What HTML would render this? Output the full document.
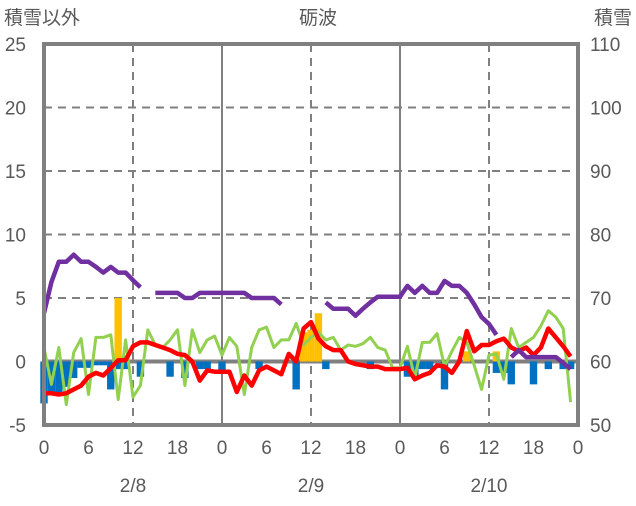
<!DOCTYPE html>
<html><head><meta charset="utf-8"><style>
body{margin:0;background:#fff;}
svg text{font-family:"Liberation Sans","Noto Sans CJK JP",sans-serif;fill:#595959;font-size:19px;}
</style></head><body>
<svg id="chart" width="636" height="501" xmlns="http://www.w3.org/2000/svg">
<g id="grid"></g>
<g id="bars"></g>
<g id="lines"></g>
<rect x="44" y="44" width="534" height="381" fill="none" stroke="#808080" stroke-width="4"/>
<text x="4" y="24">積雪以外</text>
<text x="318" y="24" text-anchor="middle">砺波</text>
<text x="632" y="24" text-anchor="end">積雪</text>
<g id="labels"></g>
</svg>
<script>
const leftTicks=[25,20,15,10,5,0,-5];
const rightTicks=[110,100,90,80,70,60,50];
const hourTicks=["0","6","12","18","0","6","12","18","0","6","12","18","0"];
const dateLabels=["2/8","2/9","2/10"];
const snowDepth=[67.6,72.5,75.7,75.7,76.8,75.7,75.7,74.9,74,74.9,74,74,72.8,71.7,null,70.8,70.8,70.8,70.8,70,70,70.8,70.8,70.8,70.8,70.8,70.8,70.8,70,70,70,70,69,null,null,null,null,null,69.3,68.3,68.3,68.3,67.2,68.3,69.3,70.2,70.2,70.2,70.2,71.9,70.8,71.9,70.8,70.8,72.7,71.9,71.9,70.8,69,67,65.9,64.2,null,60.7,61.8,60.7,60.7,60.7,60.7,60.7,59.8,58.8];
const temp=[-2.5,-2.5,-2.6,-2.5,-2.2,-1.9,-1.2,-0.9,-1.1,-0.5,0.1,0.1,1.2,1.5,1.5,1.3,1.1,0.9,0.6,0.5,0,-1.5,-0.7,-0.8,-0.8,-0.8,-2.4,-1.1,-1.9,-0.7,-0.4,-0.7,-1,0.6,0,2.6,3.1,1.8,1.2,0.9,0.9,0,-0.2,-0.3,-0.4,-0.4,-0.6,-0.6,-0.6,-0.5,-1.4,-1.1,-0.9,-0.3,-0.4,-0.9,0,2.4,0.8,1.3,1.3,1.6,1.8,1.1,0.8,1.1,0.5,1.1,2.6,1.9,1.2,0.4];
const green=[1.1,-1.8,1.1,-3.4,0.7,1.8,-2.6,1.9,1.9,2.1,-3.0,1.7,-2.8,-1.9,2.5,1.3,1.1,1.7,2.5,-1.9,2.5,0.7,1.7,2,0.5,1.9,1.2,-2.6,1.1,2.5,2.7,1.1,1.7,1.7,3,1.3,1.9,2.3,1.7,1.9,0.9,1.3,1.2,1.4,1.9,1.1,0.9,-0.5,-0.5,1.2,-1.3,1.5,1.5,2.2,-0.4,0.8,1.9,1.5,-0.3,-2.2,0.5,0.6,-1.4,2.6,1.1,1.5,1.9,2.8,4.0,3.5,2.6,-3.2];
const snowfallHours=[10,35,36,37,57,61];
const snowfallVals=[5.0,2.3,2.5,3.8,0.8,0.8];
const blueHours=[0,1,2,3,4,5,6,7,8,9,10,11,13,17,19,21,22,24,29,34,38,44,49,50,51,52,54,61,62,63,66,68,70,71];
const blueVals=[-3.3,-2.5,-2.5,-2.0,-1.3,-0.5,-0.5,-0.3,-0.3,-2.2,-0.6,-0.6,-1.2,-1.2,-1.3,-0.6,-0.6,-0.7,-0.6,-2.2,-0.6,-0.6,-1.2,-1.2,-0.6,-0.6,-2.2,-0.9,-0.9,-1.8,-1.8,-0.6,-0.6,-0.6];
const NS="http://www.w3.org/2000/svg";
const X=h=>44+h*534/72, YL=v=>361.5-v*12.7, YR=v=>361.5-(v-60)*6.35;
function mk(p,t,a){const e=document.createElementNS(NS,t);for(const k in a)e.setAttribute(k,a[k]);p.appendChild(e);return e;}
const grid=document.getElementById('grid'),bars=document.getElementById('bars'),lines=document.getElementById('lines'),labels=document.getElementById('labels');
leftTicks.forEach(v=>{if(v>0&&v<25){const l=mk(grid,'line',{x1:44,x2:578,y1:YL(v),y2:YL(v),stroke:'#808080','stroke-width':2,'stroke-dasharray':'8,6'});

}});
for(let h=12;h<72;h+=12){const solid=h%24==0;const l=mk(grid,'line',{x1:X(h),x2:X(h),y1:44,y2:425,stroke:'#808080','stroke-width':2,'stroke-dasharray':solid?'none':'8,6'});

}
snowfallHours.forEach((h,i)=>{const v=snowfallVals[i];const r=mk(bars,'rect',{x:X(h)-3.7,width:7.4,y:YL(v),height:YL(0)-YL(v),fill:'#FFC000'});

});
blueHours.forEach((h,i)=>{const v=blueVals[i];const r=mk(bars,'rect',{x:X(h)-3.7,width:7.4,y:YL(0),height:YL(v)-YL(0),fill:'#0070C0'});

});
const zl=mk(grid,'line',{x1:44,x2:578,y1:YL(0),y2:YL(0),stroke:'#808080','stroke-width':4});


function path(arr,yf,col,w,name){let d='',pen=false;arr.forEach((v,h)=>{if(v==null){pen=false;return;}d+=(pen?'L':'M')+X(h).toFixed(1)+','+yf(v).toFixed(1);pen=true;});
const p=mk(lines,'path',{d:d,fill:'none',stroke:col,'stroke-width':w,'stroke-linejoin':'round'});

}
path(green,YL,'#92D050',3,'green-series-line');
path(temp,YL,'#FF0000',4.5,'temperature-line');
path(snowDepth,YR,'#7030A0',4.5,'snow-depth-line');
leftTicks.forEach(v=>{const t=mk(labels,'text',{x:26,y:YL(v)+7,'text-anchor':'end'});t.textContent=v;

});
rightTicks.forEach(v=>{const t=mk(labels,'text',{x:590,y:YR(v)+7});t.textContent=v;

});
hourTicks.forEach((s,i)=>{const t=mk(labels,'text',{x:X(i*6),y:454,'text-anchor':'middle'});t.textContent=s;

});
dateLabels.forEach((s,i)=>{const t=mk(labels,'text',{x:X(12+i*24),y:492,'text-anchor':'middle'});t.textContent=s;

});
</script>
</body></html>
